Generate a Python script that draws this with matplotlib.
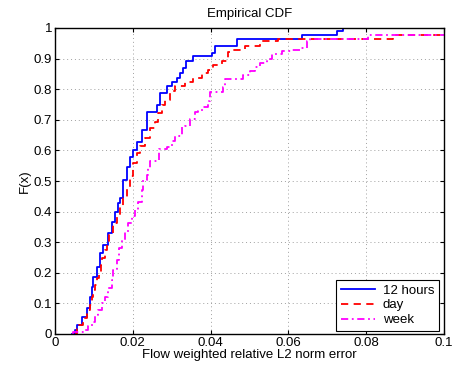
import matplotlib
matplotlib.use("Agg")
import matplotlib.pyplot as plt

plt.rcParams['font.family'] = ['Liberation Sans', 'DejaVu Sans']

# ---- data (step locations and CDF values after each step) ----
x_12h = [0.00445, 0.0051, 0.0056, 0.0069, 0.0081, 0.0090, 0.0094, 0.0097, 0.0107,
         0.0116, 0.0123, 0.0137, 0.0146, 0.0154, 0.0163, 0.0167, 0.0176, 0.0184,
         0.0193, 0.0201, 0.0210, 0.0223, 0.0236, 0.0261, 0.0270, 0.0287, 0.0300,
         0.0313, 0.0321, 0.0330, 0.0337, 0.0356, 0.0403, 0.0411, 0.0467, 0.0634,
         0.0725, 0.0740]
F_12h = [0.0, 0.013, 0.029, 0.057, 0.085, 0.122, 0.155, 0.186, 0.220,
         0.265, 0.291, 0.330, 0.367, 0.400, 0.429, 0.445, 0.504, 0.547,
         0.580, 0.602, 0.629, 0.667, 0.727, 0.749, 0.787, 0.811, 0.825,
         0.836, 0.853, 0.869, 0.891, 0.907, 0.918, 0.940, 0.965, 0.978,
         0.989, 1.0]

x_day = [0.0051, 0.0056, 0.0062, 0.0073, 0.0081, 0.0090, 0.0094, 0.0098, 0.0103,
         0.0109, 0.0114, 0.0117, 0.0122, 0.0129, 0.0133, 0.0140, 0.0150, 0.0159,
         0.0167, 0.0176, 0.0184, 0.0193, 0.0201, 0.0210, 0.0219, 0.0231, 0.0244,
         0.0257, 0.0266, 0.0274, 0.0283, 0.0296, 0.0308, 0.0334, 0.0356, 0.0377,
         0.0394, 0.0407, 0.0429, 0.0446, 0.0458, 0.0488, 0.0527, 0.0573, 0.0870,
         0.1200]
F_day = [0.0, 0.015, 0.029, 0.051, 0.079, 0.095, 0.122, 0.144, 0.160,
         0.182, 0.199, 0.226, 0.248, 0.275, 0.297, 0.329, 0.362, 0.389,
         0.416, 0.444, 0.482, 0.515, 0.558, 0.591, 0.613, 0.640, 0.673,
         0.694, 0.722, 0.749, 0.765, 0.793, 0.809, 0.825, 0.836, 0.853,
         0.864, 0.880, 0.891, 0.923, 0.929, 0.940, 0.956, 0.965, 0.978,
         0.978]

x_week = [0.00463, 0.00771, 0.00856, 0.00943, 0.01028, 0.01113, 0.01201, 0.01285,
          0.01370, 0.01458, 0.01499, 0.01586, 0.01653, 0.01715, 0.01799, 0.01884,
          0.01972, 0.02057, 0.02141, 0.02229, 0.02270, 0.02357, 0.02398, 0.02442,
          0.02674, 0.02871, 0.03000, 0.03085, 0.03257, 0.03342, 0.03470, 0.03599,
          0.03684, 0.03771, 0.03941, 0.03985, 0.04327, 0.04370, 0.04840, 0.05013,
          0.05141, 0.05270, 0.05442, 0.05578, 0.05828, 0.06093, 0.06298, 0.06470,
          0.06555, 0.08054, 0.12000]
F_week = [0.008, 0.013, 0.025, 0.040, 0.062, 0.078, 0.100, 0.122,
          0.149, 0.177, 0.209, 0.242, 0.280, 0.307, 0.334, 0.362,
          0.384, 0.405, 0.432, 0.469, 0.502, 0.518, 0.544, 0.5645,
          0.606, 0.611, 0.632, 0.648, 0.676, 0.681, 0.703, 0.725,
          0.730, 0.741, 0.763, 0.790, 0.807, 0.834, 0.845, 0.858,
          0.874, 0.885, 0.898, 0.914, 0.924, 0.929, 0.936, 0.958,
          0.965, 0.978, 0.978]

labels = ['12 hours', 'day', 'week']
x_ticks = [0, 0.02, 0.04, 0.06, 0.08, 0.1]
x_ticklabels = ['0', '0.02', '0.04', '0.06', '0.08', '0.1']
y_ticks = [0, 0.1, 0.2, 0.3, 0.4, 0.5, 0.6, 0.7, 0.8, 0.9, 1.0]
y_ticklabels = ['0', '0.1', '0.2', '0.3', '0.4', '0.5', '0.6', '0.7', '0.8', '0.9', '1']

FS = 9.5

fig = plt.figure(figsize=(4.61, 3.74), dpi=100)
ax = fig.add_axes([55/461, 40/374, 389/461, 306/374])

ax.step([x_12h[0]] + x_12h, [0.0] + F_12h, where='post', color='#0000ff',
        lw=1.3, ls='-', label=labels[0])
ax.step([x_day[0]] + x_day, [0.0] + F_day, where='post', color='#ff0000',
        lw=1.3, ls=(0, (4, 3)), label=labels[1])
ax.step([x_week[0]] + x_week, [0.0] + F_week, where='post', color='#ff00ff',
        lw=1.3, ls=(0, (4, 2, 1, 2)), label=labels[2])

ax.set_xlim(0, 0.1)
ax.set_ylim(0, 1)
ax.set_xticks(x_ticks)
ax.set_xticklabels(x_ticklabels)
ax.set_yticks(y_ticks)
ax.set_yticklabels(y_ticklabels)
ax.tick_params(direction='in', top=True, right=True, labelsize=FS,
               length=3, width=0.8, pad=2)
ax.grid(True, color='#a0a0a0', ls=(0, (1, 3)), lw=0.7)
for s in ax.spines.values():
    s.set_linewidth(1.0)
    s.set_color('black')

ax.set_title('Empirical CDF', fontsize=FS, pad=8)
ax.set_xlabel('Flow weighted relative L2 norm error', fontsize=FS, labelpad=0)
ax.set_ylabel('F(x)', fontsize=FS, labelpad=2)

leg = ax.legend(loc='lower right', bbox_to_anchor=(0.987, 0.01), borderaxespad=0,
                fontsize=FS, fancybox=False, framealpha=1, edgecolor='black',
                handlelength=2.6, handletextpad=0.6, labelspacing=0.2,
                borderpad=0.35)
leg.get_frame().set_linewidth(0.8)

fig.savefig('out.png', dpi=100)
